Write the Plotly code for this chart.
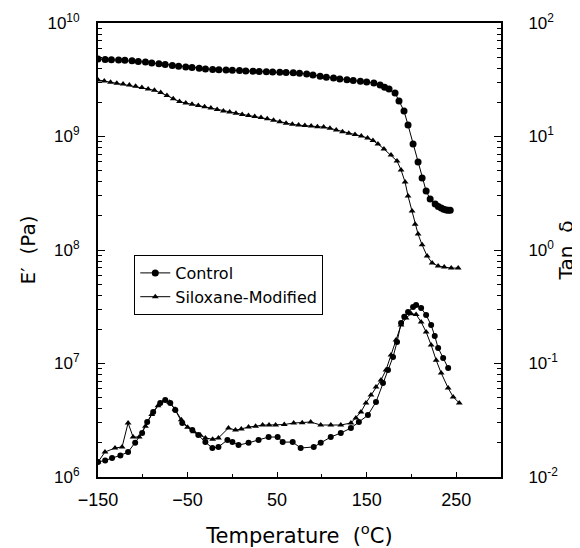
import plotly.graph_objects as go

# ---------------- data ----------------
# Storage modulus E' (Pa) vs temperature (degC)
ctrl_E_T = [-150, -142, -135, -127, -120, -112, -105, -97, -90, -82, -75, -67, -60, -52,
            -45, -37, -30, -22, -15, -7, 0, 8, 15, 23, 30, 38, 45, 53, 60, 68, 75, 83,
            90, 98, 105, 113, 120, 128, 135, 143, 150, 158, 165, 170, 175,
            181.7, 186.1, 191.7, 196.2, 201.8, 207.4, 211.9, 216.4, 220.9, 226.5,
            230, 233.2, 236, 238.8, 241, 243.3]
ctrl_E = [4.82e9, 4.78e9, 4.75e9, 4.72e9, 4.70e9, 4.66e9, 4.58e9, 4.53e9, 4.45e9, 4.38e9,
          4.30e9, 4.22e9, 4.16e9, 4.10e9, 4.06e9, 4.00e9, 3.94e9, 3.90e9, 3.87e9, 3.85e9,
          3.83e9, 3.81e9, 3.78e9, 3.76e9, 3.74e9, 3.72e9, 3.70e9, 3.68e9, 3.66e9, 3.64e9,
          3.61e9, 3.55e9, 3.48e9, 3.40e9, 3.33e9, 3.27e9, 3.21e9, 3.16e9, 3.11e9, 3.06e9,
          3.02e9, 2.96e9, 2.85e9, 2.72e9, 2.62e9,
          2.42e9, 2.06e9, 1.68e9, 1.26e9, 8.59e8, 5.96e8, 4.31e8, 3.31e8, 2.81e8, 2.54e8,
          2.42e8, 2.34e8, 2.29e8, 2.25e8, 2.24e8, 2.24e8]

silox_E_T = [-150, -143, -136, -129, -122, -115, -108, -101, -94, -87, -80, -73, -66, -59,
             -52, -45, -38, -31, -24, -17, -10, -3, 4, 11, 18, 25, 32, 39, 46, 53, 60, 67,
             74, 81, 88, 95, 102, 109, 116, 123, 130, 137, 144, 151, 157,
             162.6, 169.3, 177.2, 183.9, 188.4, 192.9, 196.2, 200.7, 204.1, 207.4, 211.9,
             217.5, 223.1, 229.8, 236.6, 244.4, 252.2]
silox_E = [3.15e9, 3.08e9, 3.00e9, 2.95e9, 2.90e9, 2.84e9, 2.77e9, 2.70e9, 2.62e9, 2.55e9,
           2.44e9, 2.30e9, 2.15e9, 2.03e9, 1.97e9, 1.92e9, 1.88e9, 1.83e9, 1.78e9, 1.73e9,
           1.68e9, 1.64e9, 1.60e9, 1.56e9, 1.53e9, 1.50e9, 1.47e9, 1.43e9, 1.39e9, 1.35e9,
           1.31e9, 1.28e9, 1.26e9, 1.25e9, 1.24e9, 1.22e9, 1.21e9, 1.18e9, 1.14e9, 1.10e9,
           1.07e9, 1.04e9, 1.01e9, 9.7e8, 9.2e8,
           8.59e8, 7.76e8, 6.87e8, 6.08e8, 5.07e8, 3.97e8, 2.99e8, 2.21e8, 1.69e8, 1.38e8,
           1.11e8, 8.85e7, 7.68e7, 7.22e7, 7.08e7, 6.93e7, 6.93e7]

# Tan delta vs temperature (degC)
ctrl_tan_T = [-150, -142, -134.3, -125, -116.4, -108.5, -100.7, -95.1, -88.4, -80.5, -74.9,
              -69.3, -63.7, -55.9, -44.7, -38, -30.1, -22.3, -15.5, -5.5, 0.1, 6.9, 18.1,
              29.3, 40.5, 50.6, 56.2, 67.4, 76.3, 90.9, 98.7, 109.9, 121.1, 132.4, 141.3,
              151.4, 160.4, 168.2, 173.8, 179.4, 183.9, 188.4, 192, 196.2, 201.8, 205.2,
              210.8, 216.4, 222, 226, 229.8, 235.4, 241]
ctrl_tan = [0.01355, 0.0140, 0.01468, 0.0155, 0.0166, 0.0200, 0.0244, 0.0305, 0.0374, 0.0449,
            0.0477, 0.0449, 0.0389, 0.0299, 0.0259, 0.0234, 0.0203, 0.0180, 0.0184, 0.0212,
            0.0203, 0.0191, 0.0200, 0.0212, 0.0225, 0.0225, 0.0203, 0.0203, 0.0180, 0.0184,
            0.0200, 0.0225, 0.0244, 0.0270, 0.0305, 0.0351, 0.0458, 0.0673, 0.0877, 0.114,
            0.1545, 0.2275, 0.258, 0.284, 0.315, 0.327, 0.308, 0.267, 0.218, 0.175, 0.137,
            0.112, 0.0912]

silox_tan_T = [-150, -142.2, -131, -123.1, -116.4, -110.8, -104, -97, -90, -83, -76, -70,
               -64, -57, -50, -43, -36, -30.1, -22, -15.5, -4.3, 3.5, 10, 18.1, 26, 33.8,
               41, 48.3, 58, 68.5, 78, 87.5, 98.7, 110, 121.1, 132.4, 138, 143.6, 149.2,
               154.8, 160.4, 166, 171.6, 177.2, 182.8, 188.4, 194, 199.6, 205.2, 210.8,
               216.4, 222, 227.6, 233.2, 241, 246.6, 253.4]
silox_tan = [0.01355, 0.0166, 0.0180, 0.0184, 0.0299, 0.0225, 0.0225, 0.0280, 0.0355, 0.0425,
             0.0470, 0.0455, 0.0395, 0.0320, 0.0275, 0.0250, 0.0235, 0.0221, 0.0215, 0.0221,
             0.0270, 0.0259, 0.0265, 0.0276, 0.0280, 0.0287, 0.0287, 0.0287, 0.0290, 0.0299,
             0.0300, 0.0305, 0.0287, 0.0287, 0.0287, 0.0299, 0.0331, 0.0374, 0.0449, 0.0528,
             0.0621, 0.0715, 0.0877, 0.119, 0.161, 0.218, 0.252, 0.275, 0.270, 0.232, 0.1895,
             0.1455, 0.107, 0.0824, 0.0608, 0.0507, 0.0449]

x_ticks = [-150, -50, 50, 150, 250]
x_text = ["\u2212150", "\u221250", "50", "150", "250"]
x_minor = [-100, 0, 100, 200]
left_ticks = [1e6, 1e7, 1e8, 1e9, 1e10]
left_text = ["10<sup>6</sup>", "10<sup>7</sup>", "10<sup>8</sup>", "10<sup>9</sup>", "10<sup>10</sup>"]
right_ticks = [0.01, 0.1, 1, 10, 100]
right_text = ["10<sup>-2</sup>", "10<sup>-1</sup>", "10<sup>0</sup>", "10<sup>1</sup>", "10<sup>2</sup>"]

# ---------------- figure ----------------
FONT = "Liberation Sans, Arial, Helvetica, sans-serif"
WIDE = "DejaVu Sans, Liberation Sans, sans-serif"
fig = go.Figure()

line_style = dict(color="black", width=1)
fig.add_trace(go.Scatter(x=ctrl_E_T, y=ctrl_E, mode="lines+markers", name="Control",
                         legendgroup="c", line=line_style,
                         marker=dict(symbol="circle", size=7, color="black")))
fig.add_trace(go.Scatter(x=silox_E_T, y=silox_E, mode="lines+markers", name="Siloxane-Modified",
                         legendgroup="s", line=line_style,
                         marker=dict(symbol="triangle-up", size=6, color="black")))
fig.add_trace(go.Scatter(x=ctrl_tan_T, y=ctrl_tan, mode="lines+markers", name="Control",
                         legendgroup="c", showlegend=False, yaxis="y2", line=line_style,
                         marker=dict(symbol="circle", size=6, color="black")))
fig.add_trace(go.Scatter(x=silox_tan_T, y=silox_tan, mode="lines+markers", name="Siloxane-Modified",
                         legendgroup="s", showlegend=False, yaxis="y2", line=line_style,
                         marker=dict(symbol="triangle-up", size=6, color="black")))

left_minor = [k * 10 ** n for n in range(6, 10) for k in range(2, 10)]
right_minor = [k * 10.0 ** n for n in range(-2, 2) for k in range(2, 10)]

# the page body adds an 8px offset, so the figure is 8px smaller on each side
fig.update_layout(
    width=572, height=540,
    margin=dict(l=90, r=79, t=15, b=71, autoexpand=False),
    paper_bgcolor="white", plot_bgcolor="white",
    font=dict(family=FONT, size=17, color="black"),
    showlegend=True,
    legend=dict(x=0.09, y=0.489, xanchor="left", yanchor="top",
                bordercolor="black", borderwidth=1, bgcolor="white",
                font=dict(family=WIDE, size=16), tracegroupgap=0, itemwidth=30),
    xaxis=dict(range=[-150, 300], showline=True, linecolor="black", linewidth=2,
               mirror=True, showgrid=False, zeroline=False, automargin=False,
               ticks="inside", ticklen=5, tickcolor="black",
               tickvals=x_ticks, ticktext=x_text, ticklabelstandoff=5,
               tickfont=dict(size=18),
               minor=dict(ticks="inside", ticklen=3, tickcolor="black", tickvals=x_minor),
               title=dict(text="Temperature  (<sup>o</sup>C)", standoff=20,
                          font=dict(family=WIDE, size=21))),
    yaxis=dict(type="log", range=[6, 10], showline=True, linecolor="black", linewidth=2,
               showgrid=False, zeroline=False, automargin=False,
               ticks="inside", ticklen=7, tickcolor="black",
               tickvals=left_ticks, ticktext=left_text, ticklabelstandoff=13,
               minor=dict(ticks="inside", ticklen=4, tickcolor="black", tickvals=left_minor),
               title=dict(text="E\u2032  (Pa)", standoff=6, font=dict(family=WIDE, size=20))),
    yaxis2=dict(type="log", range=[-2, 2], overlaying="y", side="right",
                showline=True, linecolor="black", linewidth=2,
                showgrid=False, zeroline=False, automargin=False,
                ticks="inside", ticklen=7, tickcolor="black",
                tickvals=right_ticks, ticktext=right_text, ticklabelstandoff=22,
                minor=dict(ticks="inside", ticklen=4, tickcolor="black", tickvals=right_minor),
                title=dict(text="Tan  \u03b4", standoff=2, font=dict(family=WIDE, size=20))),
)

fig.write_html("out.html")
